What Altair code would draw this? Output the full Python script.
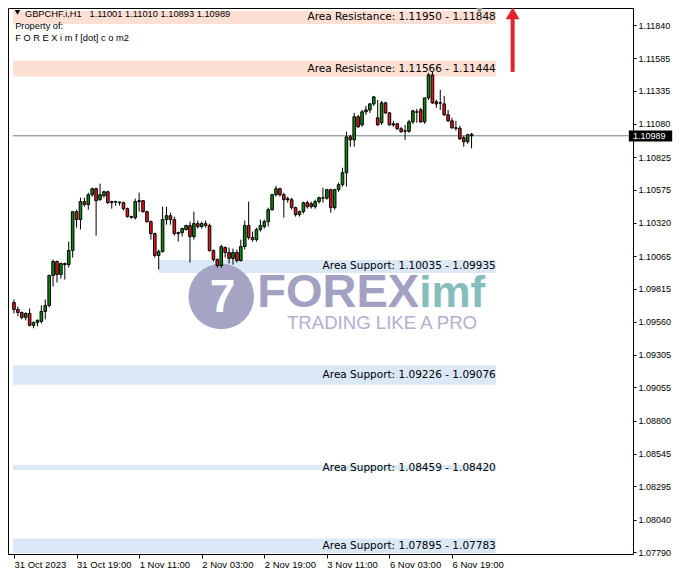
import altair as alt
import pandas as pd

# ---------------- data ----------------
opens = [1.09708,1.09654,1.09631,1.09593,1.09624,1.09532,1.09555,1.09562,1.09639,1.09685,
         1.09915,1.10023,1.09923,1.10007,1.09999,1.10107,1.10406,1.10345,1.10483,1.10460,
         1.10536,1.10582,1.10498,1.10529,1.10559,1.10475,1.10483,1.10480,1.10475,1.10429,
         1.10368,1.10360,1.10483,1.10490,1.10406,1.10329,1.10237,1.10069,1.10099,1.10345,
         1.10375,1.10345,1.10237,1.10245,1.10268,1.10299,1.10214,1.10314,1.10291,1.10314,
         1.10299,1.10107,1.10038,1.09992,1.10130,1.10092,1.10046,1.10092,1.10030,1.10138,
         1.10299,1.10207,1.10191,1.10268,1.10291,1.10329,1.10421,1.10536,1.10582,1.10536,
         1.10498,1.10498,1.10437,1.10383,1.10406,1.10475,1.10467,1.10444,1.10483,1.10513,
         1.10510,1.10575,1.10437,1.10575,1.10613,1.10705,1.10981,1.10958,1.11135,1.11073,
         1.11173,1.11188,1.11234,1.11127,1.11089,1.11242,1.11165,1.11073,1.11081,1.11043,
         1.11027,1.11024,1.11096,1.11173,1.11188,1.11096,1.11280,1.11457,1.11250,1.11242,
         1.11234,1.11150,1.11104,1.11050,1.11047,1.10974,1.10943,1.11001]
highs = [1.09731,1.09677,1.09639,1.09631,1.09662,1.09562,1.09578,1.09685,1.09731,1.09923,
         1.10038,1.10030,1.10015,1.10015,1.10176,1.10406,1.10421,1.10513,1.10513,1.10552,
         1.10590,1.10590,1.10621,1.10567,1.10567,1.10490,1.10490,1.10483,1.10483,1.10437,
         1.10375,1.10506,1.10552,1.10492,1.10414,1.10337,1.10245,1.10115,1.10444,1.10444,
         1.10398,1.10368,1.10253,1.10283,1.10306,1.10329,1.10406,1.10337,1.10329,1.10337,
         1.10314,1.10115,1.10046,1.10153,1.10138,1.10130,1.10122,1.10115,1.10191,1.10337,
         1.10483,1.10253,1.10283,1.10345,1.10345,1.10437,1.10544,1.10605,1.10590,1.10552,
         1.10521,1.10513,1.10444,1.10414,1.10483,1.10490,1.10483,1.10498,1.10521,1.10590,
         1.10582,1.10582,1.10582,1.10628,1.10743,1.11020,1.10997,1.11165,1.11150,1.11188,
         1.11219,1.11242,1.11296,1.11265,1.11257,1.11250,1.11173,1.11104,1.11089,1.11058,
         1.11073,1.11112,1.11188,1.11196,1.11204,1.11280,1.11472,1.11480,1.11265,1.11342,
         1.11296,1.11188,1.11127,1.11104,1.11066,1.10989,1.11004,1.11010]
lows = [1.09624,1.09601,1.09578,1.09570,1.09524,1.09509,1.09524,1.09547,1.09578,1.09670,
        1.09831,1.09861,1.09892,1.09884,1.09976,1.10053,1.10283,1.10268,1.10444,1.10421,
        1.10521,1.10222,1.10490,1.10513,1.10467,1.10429,1.10452,1.10452,1.10414,1.10360,
        1.10352,1.10345,1.10406,1.10398,1.10322,1.10191,1.10053,1.09961,1.10092,1.10306,
        1.10306,1.10222,1.10176,1.10214,1.10260,1.10015,1.10191,1.10276,1.10276,1.10283,
        1.10099,1.10023,1.09976,1.09976,1.10053,1.10007,1.09999,1.10015,1.10023,1.10115,
        1.10191,1.10176,1.10176,1.10253,1.10276,1.10291,1.10414,1.10521,1.10521,1.10360,
        1.10475,1.10421,1.10368,1.10368,1.10391,1.10429,1.10429,1.10429,1.10467,1.10475,
        1.10498,1.10398,1.10421,1.10559,1.10598,1.10598,1.10905,1.10905,1.11050,1.11058,
        1.11150,1.11165,1.11219,1.11066,1.11073,1.11158,1.11066,1.11058,1.11035,1.11012,
        1.10958,1.11012,1.11081,1.11089,1.11089,1.11081,1.11265,1.11234,1.11204,1.11188,
        1.11142,1.11096,1.11043,1.11027,1.10958,1.10905,1.10928,1.10893]
closes = [1.09654,1.09631,1.09593,1.09624,1.09532,1.09555,1.09570,1.09639,1.09685,1.09915,
          1.10023,1.09923,1.10007,1.09999,1.10107,1.10406,1.10345,1.10483,1.10460,1.10536,
          1.10582,1.10490,1.10536,1.10559,1.10475,1.10483,1.10480,1.10475,1.10429,1.10368,
          1.10362,1.10483,1.10490,1.10406,1.10329,1.10237,1.10069,1.10099,1.10345,1.10375,
          1.10345,1.10237,1.10245,1.10276,1.10299,1.10214,1.10314,1.10291,1.10314,1.10299,
          1.10107,1.10038,1.09992,1.10138,1.10092,1.10046,1.10092,1.10030,1.10138,1.10299,
          1.10207,1.10191,1.10268,1.10299,1.10329,1.10421,1.10536,1.10582,1.10536,1.10498,
          1.10506,1.10437,1.10383,1.10406,1.10475,1.10444,1.10444,1.10483,1.10513,1.10510,
          1.10575,1.10437,1.10575,1.10613,1.10705,1.10981,1.10958,1.11135,1.11058,1.11173,
          1.11188,1.11234,1.11288,1.11073,1.11242,1.11165,1.11073,1.11081,1.11043,1.11020,
          1.11024,1.11096,1.11181,1.11170,1.11096,1.11280,1.11457,1.11242,1.11234,1.11240,
          1.11150,1.11104,1.11050,1.11047,1.10966,1.10943,1.10997,1.10989]

x_tick_idx = [0, 16, 32, 48, 64, 80, 96, 112]
x_tick_labels = ["31 Oct 2023", "31 Oct 19:00", "1 Nov 11:00", "2 Nov 03:00",
                 "2 Nov 19:00", "3 Nov 11:00", "6 Nov 03:00", "6 Nov 19:00"]
y_ticks = [1.11840, 1.11585, 1.11335, 1.11080, 1.10825, 1.10575, 1.10320, 1.10065,
           1.09815, 1.09560, 1.09305, 1.09055, 1.08800, 1.08545, 1.08295, 1.08040, 1.07790]

zone_kind = ["Resistance", "Resistance", "Support", "Support", "Support", "Support"]
zone_hi = [1.11950, 1.11566, 1.10035, 1.09226, 1.08459, 1.07895]
zone_lo = [1.11848, 1.11444, 1.09935, 1.09076, 1.08420, 1.07783]
zone_start = [-0.25, -0.25, 37, -0.25, -0.25, -0.25]
zone_end = 123.3

current_price = 1.10989
symbol = "GBPCHF.i,H1"
last_ohlc = [1.11001, 1.11010, 1.10893, 1.10989]

# ---------------- scales / axes ----------------
X_MIN, X_MAX = -0.25, 157
xs = alt.Scale(domain=[X_MIN, X_MAX], nice=False, zero=False)
ys = alt.Scale(domain=[1.07775, 1.11971], nice=False, zero=False)

FONT = "Liberation Sans"
idx_js = ",".join(str(v) for v in x_tick_idx)
lab_js = ",".join("'" + s + "'" for s in x_tick_labels)
xaxis = alt.Axis(values=x_tick_idx, labelExpr=f"[{lab_js}][indexof([{idx_js}], datum.value)]",
                 orient="bottom", title=None, grid=False, domain=False, tickColor="black",
                 tickSize=4, labelAlign="left", labelPadding=1, labelFont=FONT,
                 labelFontSize=9.5, labelColor="black", labelOverlap=False, labelFlush=False)
yaxis = alt.Axis(values=y_ticks, format=".5f", orient="right", title=None, grid=False,
                 domain=False, tickColor="black", tickSize=3, labelPadding=2, labelFont=FONT,
                 labelFontSize=9, labelColor="black", labelOverlap=False, labelFlush=False)


def X(f="i"):
    return alt.X(f"{f}:Q", scale=xs, axis=xaxis)


def Y(f="p"):
    return alt.Y(f"{f}:Q", scale=ys, axis=yaxis)


# ---------------- frames ----------------
n = len(opens)
candles = pd.DataFrame({
    "i": list(range(n)), "o": opens, "h": highs, "l": lows, "c": closes,
})
candles["dir"] = ["up" if c >= o else "down" for o, c in zip(opens, closes)]

zones = pd.DataFrame({
    "i": zone_start, "i2": [zone_end] * len(zone_hi), "p": zone_lo, "p2": zone_hi,
    "kind": zone_kind,
})
zones["mid"] = [(a + b) / 2 for a, b in zip(zone_lo, zone_hi)]
zones["t"] = [f"Area {k}: {h:.5f} - {l:.5f}" for k, h, l in zip(zone_kind, zone_hi, zone_lo)]
zones["lx"] = [zone_end - 0.1] * len(zone_hi)

# ---------------- layers ----------------
band_layer = alt.Chart(zones).mark_rect().encode(
    x=X("i"), x2="i2", y=Y("p"), y2="p2",
    color=alt.Color("kind:N", scale=alt.Scale(domain=["Resistance", "Support"],
                                              range=["#fde0d3", "#dae8f8"]), legend=None),
)

wm_circle = alt.Chart(pd.DataFrame({"i": [53], "p": [1.09754]})).mark_point(
    shape="circle", filled=True, size=4300, color="#a6a4c4", opacity=1)
wm_circle = wm_circle.encode(x=X(), y=Y())
wm_seven = alt.Chart(pd.DataFrame({"i": [53.3], "p": [1.09740], "t": ["7"]})).mark_text(
    font=FONT, fontWeight="bold", fontSize=46, color="white", baseline="middle", align="center"
).encode(x=X(), y=Y(), text="t:N")
wm_forex = alt.Chart(pd.DataFrame({"i": [62.2], "p": [1.09670], "t": ["FOREX"]})).mark_text(
    font=FONT, fontWeight="bold", fontSize=47, color="#a3a1c2", align="left", baseline="alphabetic"
).encode(x=X(), y=Y(), text="t:N")
wm_imf = alt.Chart(pd.DataFrame({"i": [103.6], "p": [1.09670], "t": ["imf"]})).mark_text(
    font=FONT, fontWeight="bold", fontSize=44, color="#87bcbd", align="left", baseline="alphabetic"
).encode(x=X(), y=Y(), text="t:N")
wm_slogan = alt.Chart(pd.DataFrame({"i": [69.8], "p": [1.09501], "t": ["TRADING LIKE A PRO"]})).mark_text(
    font=FONT, fontSize=18.6, color="#b2b0cd", align="left", baseline="alphabetic"
).encode(x=X(), y=Y(), text="t:N")

price_line = alt.Chart(pd.DataFrame({"i": [X_MIN], "i2": [X_MAX], "p": [current_price]})).mark_rule(
    color="#6f8190", strokeWidth=1).encode(x=X(), x2="i2", y=Y())

wicks = alt.Chart(candles).mark_rule(color="black", strokeWidth=1).encode(
    x=X("i"), y=Y("l"), y2="h")
bodies = alt.Chart(candles).mark_bar(size=2.6, stroke="black", strokeWidth=1).encode(
    x=X("i"), y=Y("o"), y2="c",
    color=alt.Color("dir:N", scale=alt.Scale(domain=["up", "down"], range=["#0a8a0a", "#e3161b"]),
                    legend=None),
)

zone_labels = alt.Chart(zones).mark_text(
    font="DejaVu Sans", fontSize=10.5, color="black", align="right", baseline="middle"
).encode(x=X("lx"), y=Y("mid"), text="t:N")

head_tri = alt.Chart(pd.DataFrame({"i": [0.9], "p": [1.11938]})).mark_point(
    shape="triangle-down", filled=True, size=30, color="black", opacity=1).encode(x=X(), y=Y())
header = symbol + "\u00a0\u00a0 " + " ".join(f"{v:.5f}" for v in last_ohlc)
head_df = pd.DataFrame({
    "i": [2.8, 0.3, 0.3],
    "p": [1.11926, 1.11834, 1.11738],
    "t": [header, "Property of:", "F O R E X i m f [dot] c o m2"],
})
head_text = alt.Chart(head_df).mark_text(
    font=FONT, fontSize=9.3, color="black", align="left", baseline="middle"
).encode(x=X(), y=Y(), text="t:N")

shift_tri = alt.Chart(pd.DataFrame({"i": [119], "p": [1.11950]})).mark_point(
    shape="triangle-down", filled=True, size=40, color="#9a9a9a", opacity=1).encode(x=X(), y=Y())

arrow_shaft = alt.Chart(pd.DataFrame({"i": [127.5], "p": [1.11480], "p2": [1.11900]})).mark_rule(
    color="#e5222b", strokeWidth=4).encode(x=X(), y=Y(), y2="p2")
arrow_head = alt.Chart(pd.DataFrame({"i": [127.5], "p": [1.11930]})).mark_point(
    shape="triangle-up", filled=True, size=190, color="#e5222b", opacity=1).encode(x=X(), y=Y())

box = alt.Chart(pd.DataFrame({"i": [157.2], "i2": [168.3], "p": [1.10945], "p2": [1.11030]})).mark_rect(
    color="black").encode(x=X(), x2="i2", y=Y(), y2="p2")
box_text = alt.Chart(pd.DataFrame({"i": [158.3], "p": [current_price], "t": [f"{current_price:.5f}"]})).mark_text(
    font=FONT, fontSize=9, color="white", align="left", baseline="middle"
).encode(x=X(), y=Y(), text="t:N")

chart = alt.layer(
    band_layer, wm_circle, wm_seven, wm_forex, wm_imf, wm_slogan, price_line,
    wicks, bodies, zone_labels, head_tri, head_text, shift_tri, arrow_shaft, arrow_head,
    box, box_text,
).resolve_scale(color="independent").properties(
    width=625, height=546,
    autosize=alt.AutoSizeParams(type="none"),
    padding={"left": 0, "top": 0, "right": 40, "bottom": 17},
    background="white",
).configure_view(stroke="black", strokeWidth=1)

chart.save("out.html", embed_options={"renderer": "svg", "actions": False})
